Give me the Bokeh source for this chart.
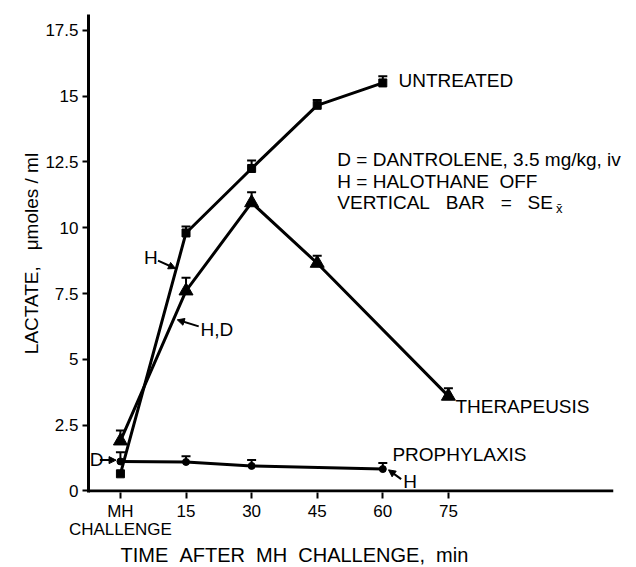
import math
from bokeh.plotting import figure
from bokeh.models import Range1d, Label, Arrow, NormalHead, Whisker, TeeHead, ColumnDataSource, FixedTicker, Title
from bokeh.embed import file_html
from bokeh.resources import INLINE

# ---- data ----
t_untreated = [0, 15, 30, 45, 60]
untreated = [0.65, 9.8, 12.25, 14.65, 15.5]
untreated_se = [0.0, 0.25, 0.3, 0.2, 0.25]

t_therap = [0, 15, 30, 45, 75]
therap = [1.9, 7.6, 10.95, 8.65, 3.6]
therap_se = [0.4, 0.5, 0.4, 0.28, 0.3]

t_proph = [0, 15, 30, 60]
proph = [1.12, 1.1, 0.95, 0.83]
proph_se = [0.35, 0.22, 0.22, 0.23]

y_ticks = [0, 2.5, 5, 7.5, 10, 12.5, 15, 17.5]
y_tick_labels = ["0", "2.5", "5", "7.5", "10", "12.5", "15", "17.5"]
x_ticks = [0, 15, 30, 45, 60, 75]
x_tick_labels = ["MH\nCHALLENGE", "15", "30", "45", "60", "75"]
x_axis_end = 112.7

NB = "\u00a0"
FONT = "Liberation Sans"
FS = "19px"

p = figure(width=632, height=567, output_backend="svg", toolbar_location=None,
           x_range=Range1d(-7.3, 117.1), y_range=Range1d(-0.06, 18.1),
           min_border_left=88, min_border_right=0, min_border_top=14, min_border_bottom=75)
p.outline_line_color = None
p.xgrid.visible = False
p.ygrid.visible = False
p.background_fill_color = "white"

for ax in (p.xaxis[0], p.yaxis[0]):
    ax.axis_line_width = 3
    ax.axis_line_color = "black"
    ax.major_tick_line_width = 2
    ax.major_tick_line_color = "black"
    ax.major_tick_in = 0
    ax.major_tick_out = 6
    ax.minor_tick_line_color = None
    ax.major_label_text_font = FONT
    ax.major_label_text_font_size = "17px"
    ax.major_label_text_color = "black"

p.xaxis[0].axis_line_color = None
p.xaxis[0].major_label_text_line_height = 0.95

p.yaxis[0].ticker = FixedTicker(ticks=y_ticks)
p.yaxis[0].major_label_overrides = {t: l for t, l in zip(y_ticks, y_tick_labels)}
p.yaxis[0].major_label_standoff = 4
p.yaxis[0].axis_label = "LACTATE," + NB * 3 + "\u03bcmoles / ml"
p.yaxis[0].axis_label_text_font = FONT
p.yaxis[0].axis_label_text_font_size = FS
p.yaxis[0].axis_label_text_font_style = "normal"
p.yaxis[0].axis_label_text_color = "black"
p.yaxis[0].axis_label_standoff = 0

p.xaxis[0].ticker = FixedTicker(ticks=x_ticks)
p.xaxis[0].major_label_overrides = {t: l for t, l in zip(x_ticks, x_tick_labels)}
p.xaxis[0].major_label_standoff = 3

p.add_layout(Title(text=(NB * 2).join(["TIME", "AFTER", "MH", "CHALLENGE,", "min"]),
                   align="left", offset=32,
                   text_font=FONT, text_font_size="20px", text_font_style="normal",
                   text_color="black", standoff=0, text_line_height=0.85), "below")

# x axis line (ends before the right edge, as in the original)
p.segment(x0=[p.x_range.start], y0=[0], x1=[x_axis_end], y1=[0], line_width=3, line_color="black")

LW = 3

def series(t, v, se, marker, size):
    p.line(t, v, line_width=LW, line_color="black")
    up = [a + b for a, b in zip(v, se)]
    src = ColumnDataSource(dict(x=[a for a, b in zip(t, se) if b > 0],
                                lo=[a for a, b in zip(v, se) if b > 0],
                                hi=[a for a, b in zip(up, se) if b > 0]))
    w = Whisker(base="x", lower="lo", upper="hi", source=src, line_width=2, line_color="black",
                lower_head=None, upper_head=TeeHead(size=9, line_width=2, line_color="black"))
    p.add_layout(w)
    p.scatter(t, v, marker=marker, size=size, fill_color="black", line_color="black")

series(t_untreated, untreated, untreated_se, "square", 8)
series(t_therap, therap, therap_se, "triangle", 14)
series(t_proph, proph, proph_se, "circle", 7)

def lab(x, y, text, align="left", baseline="middle", size=FS, angle=0.0):
    p.add_layout(Label(x=x, y=y, text=text, text_font=FONT, text_font_size=size,
                       text_align=align, text_baseline=baseline, text_color="black", angle=angle))

def arr(x0, y0, x1, y1):
    p.add_layout(Arrow(x_start=x0, y_start=y0, x_end=x1, y_end=y1, line_width=2, line_color="black",
                       end=NormalHead(size=7, fill_color="black", line_color="black")))

lab(63.6, 15.6, "UNTREATED")
lab(49.6, 12.58, "D = DANTROLENE, 3.5 mg/kg, iv")
lab(49.6, 11.74, "H = HALOTHANE" + NB * 2 + "OFF")
lab(49.6, 10.95, (NB * 3).join(["VERTICAL", "BAR", "=", "SE"]))
lab(99.6, 10.72, "x\u0304", size="13px")
lab(76.6, 3.22, "THERAPEUSIS")
lab(62.2, 1.40, "PROPHYLAXIS")

lab(64.7, 0.36, "H")
arr(64.2, 0.45, 61.3, 0.80)
lab(5.4, 8.86, "H")
arr(8.6, 8.75, 12.6, 8.45)
lab(18.3, 6.12, "H,D")
arr(17.9, 6.25, 13.0, 6.5)
lab(-7.0, 1.21, "D")
arr(-4.7, 1.17, -1.0, 1.17)

open("out.html", "w").write(file_html(p, INLINE))
